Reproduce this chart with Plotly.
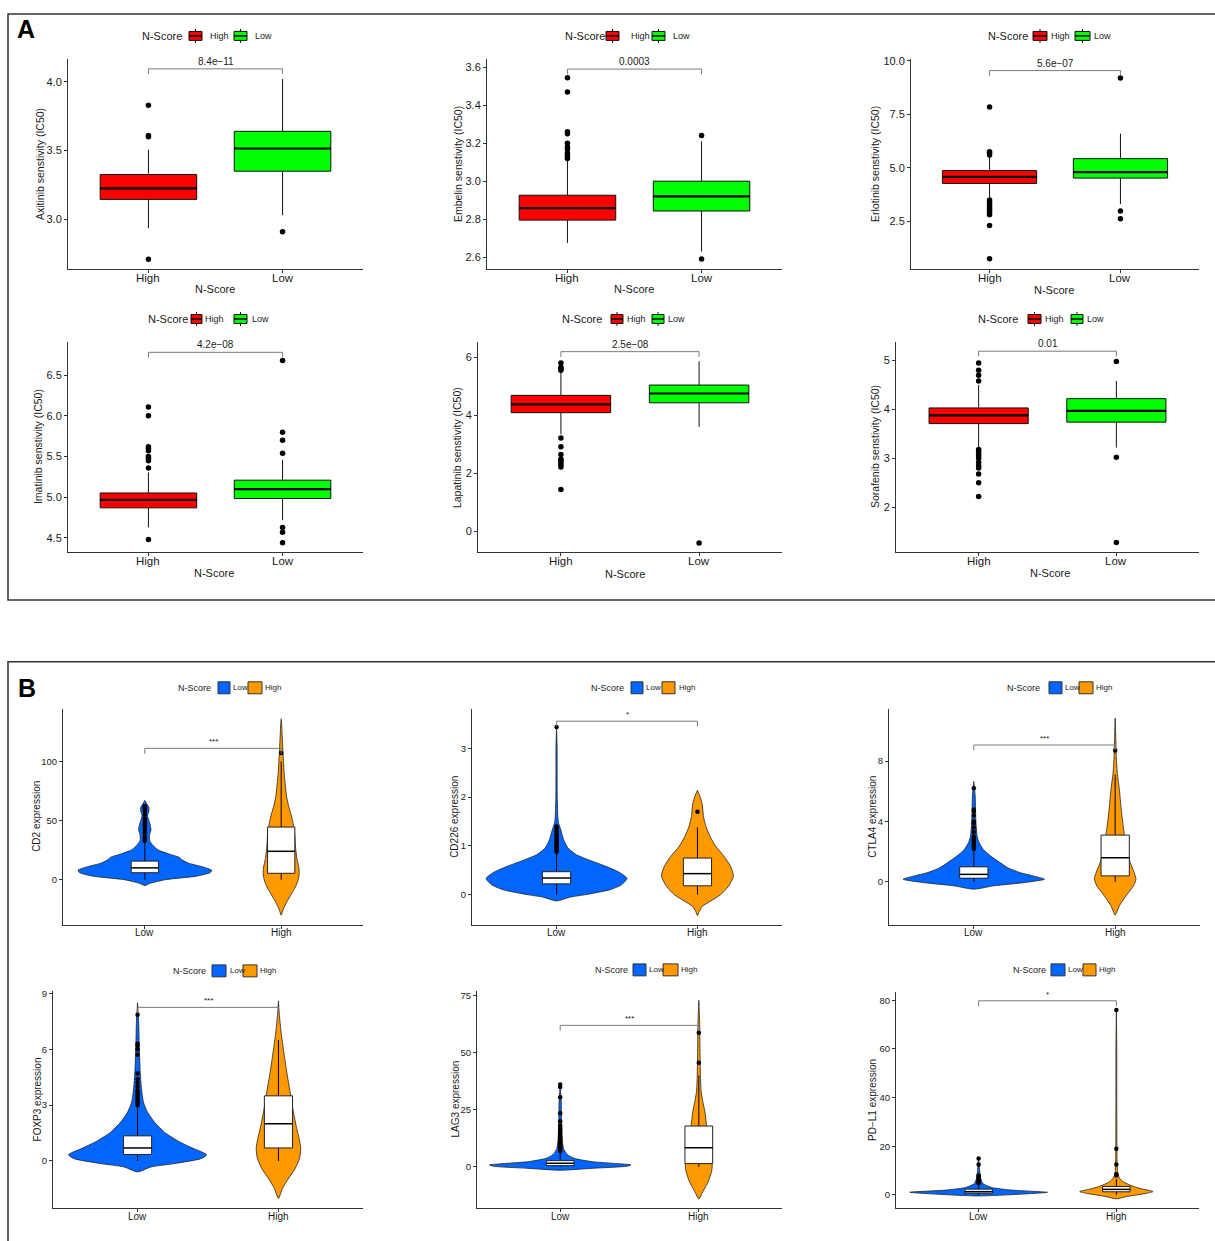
import plotly.graph_objects as go

W, H = 1215, 1241
FONT = "Liberation Sans, Arial, sans-serif"
TXT = "#1a1a1a"
AX = "#333333"

# ================= Panel A : drug sensitivity (box plots) =================
a_drugs = ["Axitinib", "Embelin", "Erlotinib", "Imatinib", "Lapatinib", "Sorafenib"]
a_groups = ["High", "Low"]
a_fill = ["#FF0000", "#00FF00"]
a_q1 = [[3.145, 3.35], [2.795, 2.843], [4.27, 4.52], [4.87, 4.985], [4.09, 4.43], [3.71, 3.74]]
a_median = [[3.225, 3.515], [2.858, 2.92], [4.58, 4.80], [4.967, 5.10], [4.377, 4.75], [3.88, 3.97]]
a_q3 = [[3.326, 3.64], [2.926, 3.0], [4.87, 5.43], [5.053, 5.21], [4.686, 5.04], [4.03, 4.22]]
a_whisk_lo = [[2.935, 3.03], [2.675, 2.63], [3.6, 3.3], [4.63, 4.72], [3.35, 3.6], [3.22, 3.22]]
a_whisk_hi = [[3.507, 4.02], [3.11, 3.21], [5.5, 6.6], [5.306, 5.46], [5.5, 5.86], [4.5, 4.58]]
a_outliers = [
    [[3.83, 3.61, 3.60, 2.71], [2.91]],
    [[3.545, 3.47, 3.26, 3.25, 3.20, 3.18, 3.17, 3.15, 3.14, 3.13, 3.12], [3.24, 2.59]],
    [[7.85, 5.75, 5.7, 5.6, 3.5, 3.4, 3.3, 3.2, 3.1, 3.0, 2.9, 2.8, 2.3, 0.75], [9.2, 2.98, 2.62]],
    [[6.11, 6.0, 5.62, 5.6, 5.57, 5.5, 5.48, 5.45, 5.36, 4.48], [6.68, 5.80, 5.70, 5.54, 4.63, 4.57, 4.44]],
    [[5.8, 5.65, 5.6, 5.55, 3.22, 2.92, 2.65, 2.5, 2.45, 2.38, 2.3, 2.22, 1.45], [-0.39]],
    [[4.95, 4.8, 4.7, 4.58, 3.18, 3.15, 3.1, 3.05, 3.0, 2.92, 2.85, 2.8, 2.68, 2.5, 2.22], [4.98, 3.02, 1.28]],
]
a_pvalue = ["8.4e\u221211", "0.0003", "5.6e\u221207", "4.2e\u221208", "2.5e\u221208", "0.01"]
a_bracket_y = [4.094, 3.59, 9.55, 6.78, 6.19, 5.19]
a_yrange = [[2.638, 4.167], [2.537, 3.644], [0.26, 10.1], [4.325, 6.908], [-0.71, 6.525], [1.08, 5.38]]
a_yticks = [[3.0, 3.5, 4.0], [2.6, 2.8, 3.0, 3.2, 3.4, 3.6], [2.5, 5.0, 7.5, 10.0],
            [4.5, 5.0, 5.5, 6.0, 6.5], [0, 2, 4, 6], [2, 3, 4, 5]]
a_ytick_text = [["3.0", "3.5", "4.0"], ["2.6", "2.8", "3.0", "3.2", "3.4", "3.6"],
                ["2.5", "5.0", "7.5", "10.0"], ["4.5", "5.0", "5.5", "6.0", "6.5"],
                ["0", "2", "4", "6"], ["2", "3", "4", "5"]]

# ================= Panel B : immune checkpoint expression (violins) =================
b_genes = ["CD2", "CD226", "CTLA4", "FOXP3", "LAG3", "PD\u2212L1"]
b_groups = ["Low", "High"]
b_fill = ["#0066FF", "#FF9900"]
# violin outline: y positions and half widths (category units), [Low, High]
b_violin_y = [
    [[-5, -3, 0, 3, 6, 8, 11, 14, 17, 19, 22, 25, 29, 33, 38, 42, 46, 50, 54, 58, 61, 64, 67],
     [-30, -25, -19, -12, -6, 0, 5, 10, 18, 28, 38, 46, 54, 62, 70, 80, 90, 100, 110, 120, 130, 136]],
    [[-0.13, -0.05, 0.0, 0.1, 0.2, 0.33, 0.45, 0.58, 0.7, 0.82, 0.96, 1.13, 1.33, 1.5, 2.0, 2.5, 3.0, 3.45],
     [-0.43, -0.35, -0.24, -0.13, 0.0, 0.17, 0.38, 0.58, 0.78, 0.99, 1.19, 1.4, 1.6, 1.87, 2.04, 2.14]],
    [[-0.48, -0.26, -0.04, 0.18, 0.4, 0.61, 0.94, 1.38, 1.71, 2.15, 2.59, 3.0, 3.9, 4.8, 5.66, 6.64],
     [-2.19, -1.58, -1.14, -0.7, -0.26, 0.18, 0.61, 1.27, 2.15, 3.46, 4.78, 6.1, 7.19, 8.29, 9.5, 10.85]],
    [[-0.59, -0.32, -0.14, 0.125, 0.34, 0.66, 1.02, 1.55, 2.09, 2.63, 3.16, 3.88, 4.77, 6.2, 7.5, 8.5],
     [-2.02, -1.48, -0.95, -0.41, 0.125, 0.66, 1.2, 1.73, 2.63, 3.7, 4.77, 5.84, 6.9, 7.8, 8.6]],
    [[-1.45, -0.58, 0.29, 0.87, 1.5, 2.3, 3.0, 3.8, 5.0, 6.0, 8.1, 12, 20, 28, 36],
     [-14, -10.8, -6.4, -2, 0.9, 6.7, 15.4, 24.1, 28.5, 32.8, 38.7, 53, 63, 72.8]],
    [[-0.4, 0.3, 1.1, 2.0, 3.0, 4.1, 4.8, 6.8, 10, 15],
     [-1.6, -0.7, 0.7, 1.4, 2.7, 4.1, 5.5, 6.8, 8.2, 12, 20, 40, 60, 76]],
]
b_violin_w = [
    [[0, 0.04, 0.15, 0.38, 0.48, 0.49, 0.42, 0.32, 0.27, 0.25, 0.17, 0.1, 0.06, 0.035, 0.035, 0.045, 0.04, 0.03, 0.02, 0.03, 0.03, 0.015, 0],
     [0, 0.015, 0.04, 0.075, 0.105, 0.125, 0.132, 0.13, 0.115, 0.105, 0.1, 0.09, 0.075, 0.055, 0.04, 0.03, 0.022, 0.017, 0.012, 0.008, 0.004, 0]],
    [[0, 0.1, 0.21, 0.38, 0.46, 0.5, 0.45, 0.35, 0.24, 0.14, 0.08, 0.05, 0.03, 0.012, 0.005, 0.004, 0.004, 0],
     [0, 0.012, 0.035, 0.095, 0.165, 0.22, 0.255, 0.235, 0.19, 0.13, 0.09, 0.06, 0.043, 0.033, 0.015, 0]],
    [[0, 0.14, 0.36, 0.5, 0.42, 0.33, 0.24, 0.17, 0.12, 0.067, 0.038, 0.024, 0.015, 0.012, 0.01, 0],
     [0, 0.03, 0.06, 0.095, 0.13, 0.147, 0.135, 0.107, 0.083, 0.06, 0.043, 0.03, 0.015, 0.008, 0.004, 0]],
    [[0, 0.095, 0.26, 0.45, 0.49, 0.4, 0.3, 0.19, 0.12, 0.07, 0.042, 0.028, 0.019, 0.012, 0.008, 0],
     [0, 0.028, 0.07, 0.118, 0.149, 0.158, 0.147, 0.13, 0.106, 0.083, 0.059, 0.038, 0.019, 0.007, 0]],
    [[0, 0.24, 0.48, 0.51, 0.4, 0.23, 0.16, 0.1, 0.06, 0.043, 0.024, 0.015, 0.01, 0.008, 0],
     [0, 0.029, 0.068, 0.092, 0.097, 0.08, 0.06, 0.044, 0.029, 0.017, 0.012, 0.008, 0.006, 0]],
    [[0, 0.3, 0.5, 0.24, 0.1, 0.048, 0.03, 0.015, 0.008, 0],
     [0, 0.07, 0.22, 0.266, 0.17, 0.097, 0.048, 0.025, 0.012, 0.006, 0.004, 0.003, 0.003, 0]],
]
b_q1 = [[5.9, 5.4], [0.22, 0.18], [0.25, 0.4], [0.35, 0.7], [0.58, 1.45], [0.75, 1.3]]
b_median = [[10, 24], [0.34, 0.43], [0.5, 1.6], [0.7, 2.0], [1.6, 8.4], [1.36, 2.3]]
b_q3 = [[15.7, 44.5], [0.47, 0.75], [1.0, 3.1], [1.35, 3.5], [2.76, 17.9], [2.4, 3.5]]
b_whisk_lo = [[0, 0], [0, 0], [0, 0], [0, 0], [0, 0], [0, 0]]
b_whisk_hi = [[31, 100], [0.85, 1.38], [2.1, 7.1], [2.9, 6.5], [6.5, 40], [4.5, 6.5]]
b_outliers = [
    [[33, 35, 37, 40, 42, 44, 46, 48, 50, 52, 55, 58, 60, 61, 62], [107]],
    [[0.88, 0.9, 0.93, 0.95, 0.98, 1.0, 1.02, 1.05, 1.08, 1.1, 1.12, 1.15, 1.2, 1.22, 1.25, 1.3, 1.35, 1.4, 3.44], [1.7]],
    [[2.2, 2.3, 2.4, 2.5, 2.6, 2.7, 2.8, 2.9, 3.0, 3.3, 3.6, 3.9, 4.0, 4.4, 4.7, 4.8, 6.2], [8.7]],
    [[3.0, 3.1, 3.2, 3.3, 3.4, 3.5, 3.6, 3.7, 3.8, 4.0, 4.2, 4.4, 4.7, 5.7, 6.0, 6.2, 6.3, 7.85], []],
    [[7, 7.5, 8, 8.5, 9, 9.5, 10, 11, 12, 13, 14, 15, 16, 17, 18, 20, 23.5, 30.5, 35, 36], [45.5, 58.7]],
    [[4.8, 5.2, 5.8, 6.5, 7.2, 7.8, 8.0, 12.5, 15], [8.0, 8.5, 12.5, 19, 76]],
]
b_sig = ["***", "*", "***", "***", "***", "*"]
b_bracket_y = [111, 3.56, 9.06, 8.25, 61.9, 79.8]
b_yrange = [[-38.3, 144.5], [-0.625, 3.816], [-2.85, 11.46], [-2.53, 9.14], [-18, 77], [-5.4, 83.5]]
b_yticks = [[0, 50, 100], [0, 1, 2, 3], [0, 4, 8], [0, 3, 6, 9], [0, 25, 50, 75], [0, 20, 40, 60, 80]]

# ================= geometry (pixels) =================
a_dom = [(68, 363, 55, 266), (487, 782, 55, 266), (911, 1199, 55, 266),
         (68, 363, 339, 550), (478, 782, 339, 550), (896, 1199, 339, 550)]
b_dom = [(63, 363, 707, 924), (472, 782, 707, 924), (889, 1200, 707, 924),
         (53, 363, 990, 1208), (477, 782, 990, 1208), (896, 1199, 991, 1208)]
a_ytitle_x = [40, 458, 875, 38, 457, 875]
b_ytitle_x = [37, 455, 873, 37, 455, 873]
a_xtitle = [(215, 286), (634, 286), (1054, 287), (214, 571), (625, 572), (1050, 571)]
a_leg = [(140, 189, 202, 208, 234, 247, 253, 32), (563, 606, 619, 629, 652, 665, 671, 32),
         (986, 1033, 1047, 1049, 1075, 1090, 1092, 32), (146, 191, 202, 203, 234, 247, 250, 316),
         (560, 611, 623, 625, 652, 664, 666, 316), (976, 1028, 1041, 1043, 1071, 1083, 1085, 316)]
b_leg = [(176, 218, 230, 231, 248, 262, 263, 686), (589, 631, 643, 644, 662, 675, 677, 686),
         (1005, 1049, 1062, 1063, 1079, 1093, 1094, 686), (171, 212, 226, 228, 243, 257, 258, 970),
         (593, 633, 646, 647, 663, 678, 679, 969), (1011, 1051, 1065, 1066, 1083, 1096, 1097, 969)]


def fx(p):
    return p / W


def fy(p):
    return 1 - p / H


fig = go.Figure()
layout = {}
annotations = []
shapes = []


def note(x, y, text, size, xanchor="center", xref="paper", yref="paper", angle=0, color=TXT):
    annotations.append(dict(x=x, y=y, xref=xref, yref=yref, text=text, showarrow=False,
                            xanchor=xanchor, yanchor="middle", textangle=angle,
                            font=dict(size=size, color=color, family=FONT)))


def axis_names(i):
    xn = "x" if i == 1 else f"x{i}"
    yn = "y" if i == 1 else f"y{i}"
    xk = "xaxis" if i == 1 else f"xaxis{i}"
    yk = "yaxis" if i == 1 else f"yaxis{i}"
    return xn, yn, xk, yk


def setup_axes(i, dom, yrange, yticks, ytext, xtext, tsize, csize, cgap):
    xn, yn, xk, yk = axis_names(i)
    x0, x1, y0, y1 = dom
    common = dict(showline=True, linecolor=AX, linewidth=1, ticks="outside", ticklen=3,
                  tickcolor=AX, tickwidth=1, showgrid=False, zeroline=False, fixedrange=True)
    layout[xk] = dict(domain=[fx(x0), fx(x1)], range=[-0.6, 1.6], tickvals=[0, 1], showticklabels=False,
                      anchor=yn, **common)
    layout[yk] = dict(domain=[fy(y1), fy(y0)], range=yrange, tickvals=yticks, ticktext=ytext,
                      anchor=xn, tickfont=dict(size=tsize, color=TXT, family=FONT), **common)
    for g, lab in enumerate(xtext):
        note(g, fy(y1 + cgap), lab, csize, xref=xn)
    return xn, yn


def line(xn, yn, xs, ys, color="#000000", width=1):
    fig.add_trace(go.Scatter(x=xs, y=ys, mode="lines", line=dict(color=color, width=width),
                             xaxis=xn, yaxis=yn, hoverinfo="skip", showlegend=False))


def bracket(xn, yn, yb, span, text, size):
    tip = 0.025 * span
    line(xn, yn, [0, 0, 1, 1], [yb - tip, yb, yb, yb - tip], color="#7a7a7a", width=1)
    annotations.append(dict(x=0.5, y=yb, xref=xn, yref=yn, text=text, showarrow=False,
                            xanchor="center", yanchor="bottom", yshift=0,
                            font=dict(size=size, color=TXT, family=FONT)))


# ---------- Panel A ----------
for k in range(6):
    i = k + 1
    xn, yn = setup_axes(i, a_dom[k], a_yrange[k], a_yticks[k], a_ytick_text[k], a_groups, 11, 11.5, 9)
    for g in range(2):
        fig.add_trace(go.Box(x=[g], q1=[a_q1[k][g]], median=[a_median[k][g]], q3=[a_q3[k][g]],
                             lowerfence=[a_whisk_lo[k][g]], upperfence=[a_whisk_hi[k][g]],
                             width=0.72, whiskerwidth=0, fillcolor=a_fill[g],
                             line=dict(color="#111111", width=1), boxpoints=False,
                             xaxis=xn, yaxis=yn, hoverinfo="skip", showlegend=False))
        line(xn, yn, [g - 0.36, g + 0.36], [a_median[k][g]] * 2, width=2.2)
        fig.add_trace(go.Scatter(x=[g] * len(a_outliers[k][g]), y=a_outliers[k][g], mode="markers",
                                 marker=dict(color="#000000", size=5.5), xaxis=xn, yaxis=yn,
                                 hoverinfo="skip", showlegend=False))
    span = a_yrange[k][1] - a_yrange[k][0]
    bracket(xn, yn, a_bracket_y[k], span, a_pvalue[k], 10)
    x0, x1, y0, y1 = a_dom[k]
    note(fx(a_ytitle_x[k]), fy((y0 + y1) / 2), f"{a_drugs[k]} senstivity (IC50)", 10.5, angle=-90)
    tx, ty = a_xtitle[k]
    note(fx(tx), fy(ty), "N-Score", 11)
    # legend
    ns, k1a, k1b, t1, k2a, k2b, t2, yc = a_leg[k]
    note(fx(ns), fy(yc), "N-Score", 11, xanchor="left")
    for (ka, kb, tt, col, lab) in [(k1a, k1b, t1, a_fill[0], a_groups[0]), (k2a, k2b, t2, a_fill[1], a_groups[1])]:
        shapes.append(dict(type="rect", xref="paper", yref="paper", x0=fx(ka), x1=fx(kb),
                           y0=fy(yc + 4.5), y1=fy(yc - 4.5), fillcolor=col, line=dict(color="#111", width=1)))
        shapes.append(dict(type="line", xref="paper", yref="paper", x0=fx(ka), x1=fx(kb),
                           y0=fy(yc), y1=fy(yc), line=dict(color="#000", width=1.5)))
        cx = (ka + kb) / 2
        shapes.append(dict(type="line", xref="paper", yref="paper", x0=fx(cx), x1=fx(cx),
                           y0=fy(yc - 4.5), y1=fy(yc - 7), line=dict(color="#111", width=1)))
        shapes.append(dict(type="line", xref="paper", yref="paper", x0=fx(cx), x1=fx(cx),
                           y0=fy(yc + 4.5), y1=fy(yc + 7), line=dict(color="#111", width=1)))
        note(fx(tt), fy(yc), lab, 9, xanchor="left")

# ---------- Panel B ----------
for k in range(6):
    i = k + 7
    xn, yn = setup_axes(i, b_dom[k], b_yrange[k], b_yticks[k], [str(v) for v in b_yticks[k]],
                        b_groups, 9.5, 10, 8)
    for g in range(2):
        ys = b_violin_y[k][g]
        ws = b_violin_w[k][g]
        vx = [g + w for w in ws] + [g - w for w in reversed(ws)]
        vy = list(ys) + list(reversed(ys))
        fig.add_trace(go.Scatter(x=vx, y=vy, mode="lines", fill="toself", fillcolor=b_fill[g],
                                 line=dict(color="#222222", width=0.8, shape="spline", smoothing=0.6),
                                 xaxis=xn, yaxis=yn, hoverinfo="skip", showlegend=False))
    for g in range(2):
        hw = 0.1
        # whiskers
        line(xn, yn, [g, g], [b_q3[k][g], b_whisk_hi[k][g]], width=1)
        line(xn, yn, [g, g], [b_q1[k][g], b_whisk_lo[k][g]], width=1)
        # box
        fig.add_trace(go.Scatter(x=[g - hw, g + hw, g + hw, g - hw, g - hw],
                                 y=[b_q1[k][g], b_q1[k][g], b_q3[k][g], b_q3[k][g], b_q1[k][g]],
                                 mode="lines", fill="toself", fillcolor="#FFFFFF",
                                 line=dict(color="#222222", width=1), xaxis=xn, yaxis=yn,
                                 hoverinfo="skip", showlegend=False))
        line(xn, yn, [g - hw, g + hw], [b_median[k][g]] * 2, width=1.5)
        fig.add_trace(go.Scatter(x=[g] * len(b_outliers[k][g]), y=b_outliers[k][g], mode="markers",
                                 marker=dict(color="#000000", size=4.5), xaxis=xn, yaxis=yn,
                                 hoverinfo="skip", showlegend=False))
    span = b_yrange[k][1] - b_yrange[k][0]
    bracket(xn, yn, b_bracket_y[k], span, b_sig[k], 8)
    x0, x1, y0, y1 = b_dom[k]
    note(fx(b_ytitle_x[k]), fy((y0 + y1) / 2), f"{b_genes[k]} expression", 10, angle=-90)
    ns, k1a, k1b, t1, k2a, k2b, t2, yc = b_leg[k]
    note(fx(ns), fy(yc), "N-Score", 9, xanchor="left")
    for (ka, kb, tt, col, lab) in [(k1a, k1b, t1, b_fill[0], b_groups[0]), (k2a, k2b, t2, b_fill[1], b_groups[1])]:
        shapes.append(dict(type="rect", xref="paper", yref="paper", x0=fx(ka), x1=fx(kb),
                           y0=fy(yc + 6), y1=fy(yc - 6), fillcolor=col, line=dict(color="#333", width=1)))
        note(fx(tt), fy(yc), lab, 8, xanchor="left")

# ---------- panel frames and letters ----------
shapes.append(dict(type="rect", xref="paper", yref="paper", x0=fx(8), x1=fx(1217), y0=fy(598), y1=fy(10),
                   line=dict(color="#333", width=1.5), layer="below"))
shapes.append(dict(type="rect", xref="paper", yref="paper", x0=fx(8), x1=fx(1217), y0=fy(1243), y1=fy(660),
                   line=dict(color="#333", width=1.5), layer="below"))
note(fx(26), fy(25), "<b>A</b>", 25, color="#000")
note(fx(27), fy(686), "<b>B</b>", 25, color="#000")

fig.update_layout(width=W, height=H, margin=dict(l=0, r=0, t=0, b=0), paper_bgcolor="white",
                  plot_bgcolor="white", showlegend=False, boxmode="overlay",
                  font=dict(family=FONT, color=TXT), annotations=annotations, shapes=shapes, **layout)

fig.write_html("out.html", config={"displayModeBar": False})
